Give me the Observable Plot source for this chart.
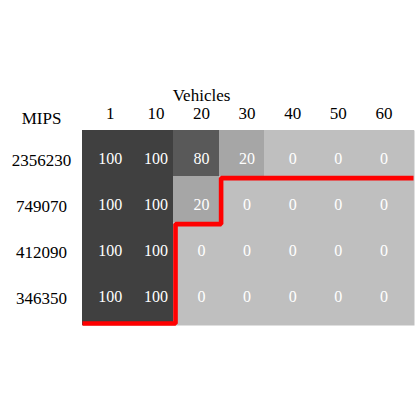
<!DOCTYPE html>
<html>
<head>
<meta charset="utf-8">
<script src="https://cdn.jsdelivr.net/npm/d3@7"></script>
<script src="https://cdn.jsdelivr.net/npm/@observablehq/plot@0.6"></script>
<style>
  html, body { margin: 0; padding: 0; background: #fff; }
  svg { display: block; }
</style>
</head>
<body>
<div id="chart"></div>
<script>
// Data
const vehicles = ["1", "10", "20", "30", "40", "50", "60"];
const mips = ["2356230", "749070", "412090", "346350"];
const row2356230 = [100, 100, 80, 20, 0, 0, 0];
const row749070  = [100, 100, 20, 0, 0, 0, 0];
const row412090  = [100, 100, 0, 0, 0, 0, 0];
const row346350  = [100, 100, 0, 0, 0, 0, 0];
// number of columns above/left of the red boundary, per row
const frontier = [7, 3, 2, 2];

const rowsValues = [row2356230, row749070, row412090, row346350];
const cells = [];
rowsValues.forEach((vals, r) => vals.forEach((v, c) => cells.push({r, c, v})));

const R = mips.length, C = vehicles.length;
const xMax = 7.28, yMax = 4.24;
const colPx = 332 / xMax, rowPx = 195 / yMax;
const ox = 1.8 / colPx, oy = 1.6 / rowPx, by = 2 / rowPx;

// red boundary path built from frontier
const path = [];
let yb = yMax - by;
path.push({x: 0, y: yb});
for (let r = R - 1; r >= 1; r--) {
  const x = frontier[r] + ox;
  path.push({x, y: yb});
  yb = r + oy;
  path.push({x, y: yb});
}
path.push({x: xMax - 1 / colPx, y: yb});

const font = "Liberation Serif, Times New Roman, serif";

const chart = Plot.plot({
  width: 420,
  height: 420,
  marginTop: 130,
  marginBottom: 95,
  marginLeft: 82,
  marginRight: 6,
  style: {fontFamily: font, background: "#fff"},
  x: {domain: [0, xMax], axis: null},
  y: {domain: [0, yMax], reverse: true, axis: null},
  color: {type: "linear", domain: [0, 100], range: ["#bfbfbf", "#404040"]},
  marks: [
    Plot.frame({fill: "#bfbfbf", stroke: null}),
    Plot.rect(cells, {
      x1: "c",
      x2: d => d.c === C - 1 ? xMax : d.c + 1,
      y1: "r",
      y2: d => d.r === R - 1 ? yMax : d.r + 1,
      fill: "v",
      shapeRendering: "crispEdges"
    }),
    Plot.text(cells, {
      x: d => d.c + 0.5, y: d => d.r + 0.5, text: d => String(d.v),
      fill: "white", fontSize: 16, dx: 5, dy: 5, lineAnchor: "middle"
    }),
    Plot.line(path, {
      x: "x", y: "y", stroke: "#ff0000", strokeWidth: 4.6,
      strokeLinejoin: "miter", strokeLinecap: "butt"
    }),
    // column tick labels
    Plot.text(vehicles, {
      x: (d, i) => i + 0.5, text: d => d, frameAnchor: "top", lineAnchor: "middle",
      dx: 5, dy: -17, fontSize: 17, fill: "black"
    }),
    // column title
    Plot.text(["Vehicles"], {
      x: () => vehicles.indexOf("20") + 0.5, text: d => d, frameAnchor: "top", lineAnchor: "middle",
      dx: 5, dy: -34.5, fontSize: 17, fill: "black"
    }),
    // row tick labels
    Plot.text(mips, {
      y: (d, i) => i + 0.5, text: d => d, frameAnchor: "left", lineAnchor: "middle",
      textAnchor: "middle", dx: -41, dy: 7.5, fontSize: 17, fill: "black"
    }),
    // row title
    Plot.text(["MIPS"], {
      text: d => d, frameAnchor: "top-left", lineAnchor: "middle",
      textAnchor: "middle", dx: -41, dy: -12, fontSize: 17, fill: "black"
    })
  ]
});
document.getElementById("chart").appendChild(chart);
</script>
</body>
</html>
